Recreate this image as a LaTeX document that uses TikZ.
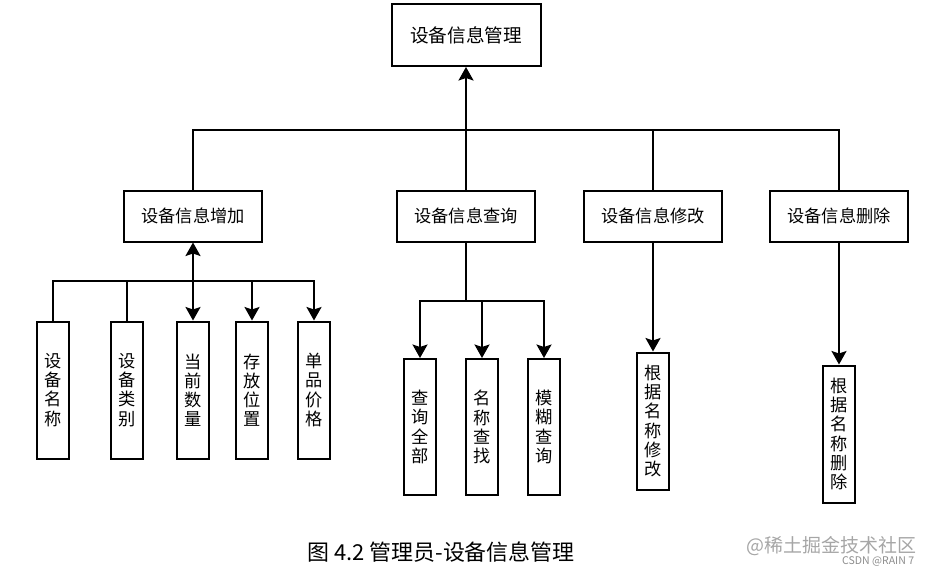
\documentclass[tikz,border=0pt]{standalone}
\usepackage{fontspec}
\setmainfont{Noto Sans CJK SC}
\usetikzlibrary{arrows.meta}
\begin{document}
\begin{tikzpicture}[x=0.02cm,y=-0.02cm]
\def\px{0.02cm}
\tikzset{base/.style={draw,line width=2*\px,fill=white,inner sep=0pt},
top/.style={base,minimum width=149*\px,minimum height=62*\px,font=\fontsize{10.6}{12}\selectfont},
func/.style={base,minimum width=138*\px,minimum height=51*\px,font=\fontsize{9.8}{11}\selectfont},
leaf/.style={base,minimum width=32*\px,minimum height=137*\px,text width=1em,align=center,font=\fontsize{9.8}{10.9}\selectfont},
every path/.style={line width=2*\px,>={Stealth[length=0.27cm,width=0.3cm,inset=0.05cm]}}}
\useasboundingbox (0,0) rectangle (937,568);
% top
\node[top] at (466,35) (TOP) {设备信息管理};
% second level
\node[func] at (193,216) (ADD) {设备信息增加};
\node[func] at (466,216) (QRY) {设备信息查询};
\node[func] at (653,216) (MOD) {设备信息修改};
\node[func] at (839,216) (DEL) {设备信息删除};
% leaves
\node[leaf] at (53,390) (A1) {设\\备\\名\\称};
\node[leaf] at (127,390) (A2) {设\\备\\类\\别};
\node[leaf] at (193,390) (A3) {当\\前\\数\\量};
\node[leaf] at (252,390) (A4) {存\\放\\位\\置};
\node[leaf] at (314,390) (A5) {单\\品\\价\\格};
\node[leaf,minimum height=136*\px] at (420,427) (Q1) {查\\询\\全\\部};
\node[leaf,minimum height=136*\px] at (482,427) (Q2) {名\\称\\查\\找};
\node[leaf,minimum height=136*\px] at (544,427) (Q3) {模\\糊\\查\\询};
\node[leaf] at (653,421) (M1) {根\\据\\名\\称\\修\\改};
\node[leaf] at (839,434) (D1) {根\\据\\名\\称\\删\\除};
\coordinate (B1) at (466,130);
\coordinate (B2) at (193,281);
\coordinate (B3) at (466,301);
% connectors
\path[draw,->] (QRY.north) -- (TOP.south);
\draw (ADD.north) |- (B1) -| (DEL.north);
\draw (MOD.north) -- (MOD.north |- B1);
\draw[->] (B2) -- (ADD.south);
\draw (A1.north) |- (B2);
\draw (A2.north) -- (A2.north |- B2);
\draw[->] (B2) -- (A3.north);
\draw[->] (A4.north |- B2) -- (A4.north);
\draw[->] (B2) -| (A5.north);
\draw (QRY.south) -- (B3);
\draw[->] (B3) -| (Q1.north);
\draw[->] (Q2.north |- B3) -- (Q2.north);
\draw[->] (B3) -| (Q3.north);
\draw[->] (MOD.south) -- (M1.north);
\draw[->] (DEL.south) -- (D1.north);
% caption
\node[font=\fontsize{12.5}{14}\selectfont] at (441,552) (CAP) {图 4.2 管理员-设备信息管理};
\node[text=black!35,font=\fontsize{10.8}{12}\selectfont,anchor=east] at (923,546) (WM) {@稀土掘金技术社区};
\node[text=black!45,font=\fontsize{6}{7}\selectfont,anchor=east] at (921,561) (WM2) {CSDN @RAIN 7};
\end{tikzpicture}
\end{document}
